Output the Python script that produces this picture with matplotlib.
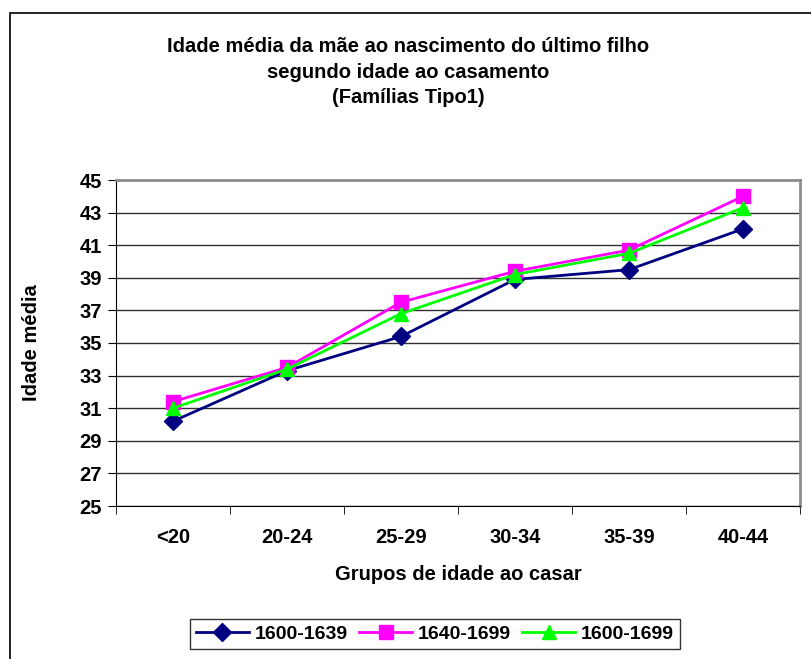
import matplotlib
matplotlib.use("Agg")
import matplotlib.pyplot as plt
import matplotlib.patches as mpatches
import numpy as np

plt.rcParams['font.family'] = ['Liberation Sans', 'DejaVu Sans']
plt.rcParams['font.weight'] = 'bold'

# dados
grupos = ['<20', '20-24', '25-29', '30-34', '35-39', '40-44']
s_1600_1639 = [30.2, 33.3, 35.4, 38.9, 39.5, 42.0]
s_1640_1699 = [31.4, 33.5, 37.5, 39.4, 40.7, 44.0]
s_1600_1699 = [31.0, 33.4, 36.8, 39.2, 40.5, 43.3]
y_ticks = np.arange(25, 46, 2)

W, H = 811, 659
fs = 14.5
fig = plt.figure(figsize=(W / 100, H / 100), dpi=100, facecolor='white')
ax = fig.add_axes([116 / W, 1 - 506 / H, (800 - 116) / W, (506 - 180) / H])

x = np.arange(len(grupos))
ax.plot(x, s_1600_1639, color='#000080', lw=2, marker='D', ms=9,
        mec='#000080', label='1600-1639', zorder=3)
ax.plot(x, s_1640_1699, color='#FF00FF', lw=2, marker='s', ms=9.5,
        mec='#FF00FF', label='1640-1699', zorder=3)
ax.plot(x, s_1600_1699, color='#00FF00', lw=2, marker='^', ms=10.5,
        mec='#00FF00', label='1600-1699', zorder=4)

ax.set_xlim(-0.5, len(grupos) - 0.5)
ax.set_ylim(25, 45)
ax.set_yticks(y_ticks)
ax.set_yticklabels([str(v) for v in y_ticks], fontsize=fs, fontweight='bold')
ax.set_xticks(x)
ax.set_xticklabels(grupos, fontsize=fs, fontweight='bold')
ax.tick_params(axis='x', length=0, pad=16)
ax.set_xticks(np.arange(-0.5, len(grupos), 1), minor=True)
ax.tick_params(axis='x', which='minor', length=6, direction='out', color='black')
ax.tick_params(axis='y', length=6, direction='out', color='black', pad=4)

ax.grid(axis='y', color='#303030', lw=1.0)
ax.set_axisbelow(True)
for s in ['top', 'right']:
    ax.spines[s].set_color('#8c8c8c')
    ax.spines[s].set_linewidth(2)
ax.spines['left'].set_color('black')
ax.spines['bottom'].set_color('black')

ax.set_xlabel('Grupos de idade ao casar', fontsize=fs, fontweight='bold', labelpad=13)
ax.set_ylabel('Idade média', fontsize=fs, fontweight='bold', labelpad=28)

fig.text(408 / W, 1 - 72 / H,
         'Idade média da mãe ao nascimento do último filho\n'
         'segundo idade ao casamento\n(Famílias Tipo1)',
         ha='center', va='center', fontsize=fs, fontweight='bold', linespacing=1.45)

leg = ax.legend(loc='center', bbox_to_anchor=(435 / W, 1 - 634 / H),
                bbox_transform=fig.transFigure, ncol=3, frameon=True,
                fancybox=False, fontsize=14, handlelength=2.7,
                columnspacing=0.6, handletextpad=0.3, borderpad=0.3)
leg.get_frame().set_edgecolor('black')
leg.get_frame().set_linewidth(1.0)

# moldura exterior
fig.patches.append(mpatches.Rectangle((10 / W, -0.1), 1.2, (H - 13) / H + 0.1,
                                      transform=fig.transFigure, fill=False,
                                      edgecolor='black', lw=1.2))

fig.savefig('out.png', dpi=100, facecolor='white')
